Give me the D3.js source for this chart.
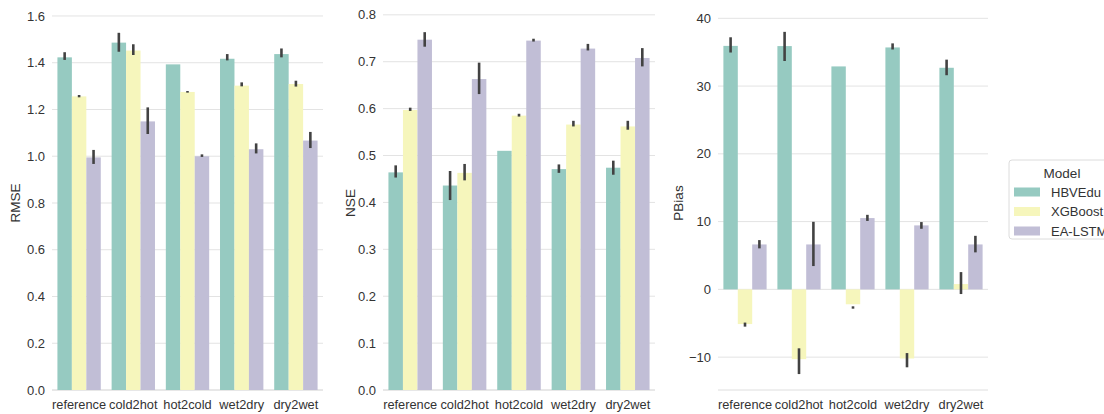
<!DOCTYPE html>
<html>
<head>
<meta charset="utf-8">
<script src="https://cdn.jsdelivr.net/npm/d3@7"></script>
<style>
  body { margin: 0; background: #fff; }
  svg { display: block; font-family: "Liberation Sans", Arial, sans-serif; }
</style>
</head>
<body>
<div id="chart"></div>
<script>
// scenarios on x, models as hue
const scenarios = ["reference", "cold2hot", "hot2cold", "wet2dry", "dry2wet"];
const models = ["HBVEdu", "XGBoost", "EA-LSTM"];

// RMSE
const rmseHBV  = [1.423, 1.486, 1.393, 1.417, 1.437];
const rmseXGB  = [1.256, 1.452, 1.275, 1.302, 1.309];
const rmseLSTM = [0.995, 1.149, 1.000, 1.030, 1.067];
const rmseHBVci  = [[1.412, 1.445], [1.447, 1.528], [1.393, 1.393], [1.410, 1.437], [1.423, 1.461]];
const rmseXGBci  = [[1.252, 1.262], [1.433, 1.479], [1.272, 1.279], [1.299, 1.316], [1.298, 1.323]];
const rmseLSTMci = [[0.967, 1.027], [1.095, 1.209], [0.997, 1.008], [1.012, 1.055], [1.035, 1.104]];

// NSE
const nseHBV  = [0.464, 0.436, 0.510, 0.471, 0.474];
const nseXGB  = [0.597, 0.463, 0.585, 0.566, 0.562];
const nseLSTM = [0.747, 0.663, 0.745, 0.728, 0.708];
const nseHBVci  = [[0.453, 0.479], [0.405, 0.467], [0.510, 0.510], [0.463, 0.481], [0.459, 0.489]];
const nseXGBci  = [[0.595, 0.602], [0.447, 0.482], [0.583, 0.589], [0.562, 0.574], [0.555, 0.574]];
const nseLSTMci = [[0.732, 0.763], [0.631, 0.698], [0.743, 0.749], [0.724, 0.738], [0.690, 0.729]];

// PBias
const pbHBV  = [35.93, 35.9, 32.9, 35.7, 32.7];
const pbXGB  = [-5.12, -10.3, -2.2, -10.2, 0.78];
const pbLSTM = [6.63, 6.63, 10.52, 9.44, 6.63];
const pbHBVci  = [[34.95, 37.2], [33.7, 38.0], [32.9, 32.9], [35.4, 36.3], [31.6, 33.9]];
const pbXGBci  = [[-5.5, -4.9], [-12.5, -8.7], [-2.85, -2.5], [-11.5, -9.4], [-0.69, 2.55]];
const pbLSTMci = [[6.05, 7.27], [3.44, 9.97], [10.1, 11.0], [8.94, 9.93], [5.46, 7.9]];

const rmseTicks = [0, 0.2, 0.4, 0.6, 0.8, 1.0, 1.2, 1.4, 1.6];
const nseTicks  = [0, 0.1, 0.2, 0.3, 0.4, 0.5, 0.6, 0.7, 0.8];
const pbTicks   = [-10, 0, 10, 20, 30, 40];

const colors = ["#96cac1", "#f6f6bc", "#c1bed6"];

const W = 1104, H = 414;
const svg = d3.select("#chart").append("svg").attr("width", W).attr("height", H);

const panels = [
  { label: "RMSE",  x0: 52,  x1: 323, dom: [0, 1.617],     ticks: rmseTicks, fmt: d3.format(".1f"),
    vals: [rmseHBV, rmseXGB, rmseLSTM], cis: [rmseHBVci, rmseXGBci, rmseLSTMci], labX: 15 },
  { label: "NSE",   x0: 383, x1: 655, dom: [0, 0.806],     ticks: nseTicks,  fmt: d3.format(".1f"),
    vals: [nseHBV, nseXGB, nseLSTM], cis: [nseHBVci, nseXGBci, nseLSTMci], labX: 350 },
  { label: "PBias", x0: 718, x1: 988, dom: [-14.85, 40.93], ticks: pbTicks,   fmt: d3.format("d"),
    vals: [pbHBV, pbXGB, pbLSTM], cis: [pbHBVci, pbXGBci, pbLSTMci], labX: 678 }
];

const yBottom = 390, yTop = 12;

panels.forEach(p => {
  const g = svg.append("g");
  const x = d3.scaleBand().domain(scenarios).range([p.x0, p.x1]).paddingInner(0.2).paddingOuter(0.1);
  const xm = d3.scaleBand().domain(models).range([0, x.bandwidth()]);
  const y = d3.scaleLinear().domain(p.dom).range([yBottom, yTop]);

  // grid
  g.selectAll(".grid").data(p.ticks).enter().append("line")
    .attr("x1", p.x0).attr("x2", p.x1)
    .attr("y1", d => y(d)).attr("y2", d => y(d))
    .attr("stroke", "#e3e3e3").attr("stroke-width", 1);
  // bottom spine
  g.append("line").attr("x1", p.x0).attr("x2", p.x1)
    .attr("y1", yBottom).attr("y2", yBottom)
    .attr("stroke", "#dedede").attr("stroke-width", 1);

  // y tick labels
  g.selectAll(".ytl").data(p.ticks).enter().append("text")
    .attr("x", p.x0 - 7).attr("y", d => y(d)).attr("dy", "0.35em")
    .attr("text-anchor", "end").attr("font-size", 13).attr("fill", "#333")
    .text(d => p.fmt(d));

  // x tick labels
  g.selectAll(".xtl").data(scenarios).enter().append("text")
    .attr("x", d => x(d) + x.bandwidth() / 2).attr("y", 405).attr("dy", "0.35em")
    .attr("text-anchor", "middle").attr("font-size", 12.8).attr("fill", "#333")
    .text(d => d);

  // axis label
  g.append("text")
    .attr("transform", `translate(${p.labX},${(yBottom + 16) / 2}) rotate(-90)`)
    .attr("text-anchor", "middle").attr("dy", "0.35em")
    .attr("font-size", 13.5).attr("fill", "#333")
    .text(p.label);

  // bars + error bars
  models.forEach((m, mi) => {
    const rows = scenarios.map((s, i) => ({ s, v: p.vals[mi][i], ci: p.cis[mi][i] }));
    g.selectAll(".bar" + mi).data(rows).enter().append("rect")
      .attr("x", d => x(d.s) + xm(m))
      .attr("width", xm.bandwidth())
      .attr("y", d => y(Math.max(0, d.v)))
      .attr("height", d => Math.abs(y(d.v) - y(0)))
      .attr("fill", colors[mi]);
    g.selectAll(".err" + mi).data(rows).enter().append("line")
      .attr("x1", d => x(d.s) + xm(m) + xm.bandwidth() / 2)
      .attr("x2", d => x(d.s) + xm(m) + xm.bandwidth() / 2)
      .attr("y1", d => y(d.ci[0])).attr("y2", d => y(d.ci[1]))
      .attr("stroke", "#424242").attr("stroke-width", 2.6);
  });
});

// legend (runs off the right edge, as in the original figure)
const lg = svg.append("g").attr("transform", "translate(1009,160)");
lg.append("rect").attr("width", 120).attr("height", 79).attr("rx", 3)
  .attr("fill", "#fff").attr("stroke", "#dcdcdc");
lg.append("text").attr("x", 53).attr("y", 13).attr("dy", "0.35em")
  .attr("text-anchor", "middle").attr("font-size", 13.5).attr("fill", "#333").text("Model");
models.forEach((m, i) => {
  const cy = 32 + i * 19.5;
  lg.append("rect").attr("x", 5).attr("y", cy - 4.5).attr("width", 26).attr("height", 9)
    .attr("fill", colors[i]);
  lg.append("text").attr("x", 42).attr("y", cy).attr("dy", "0.35em")
    .attr("font-size", 13).attr("fill", "#333").text(m);
});
</script>
</body>
</html>
